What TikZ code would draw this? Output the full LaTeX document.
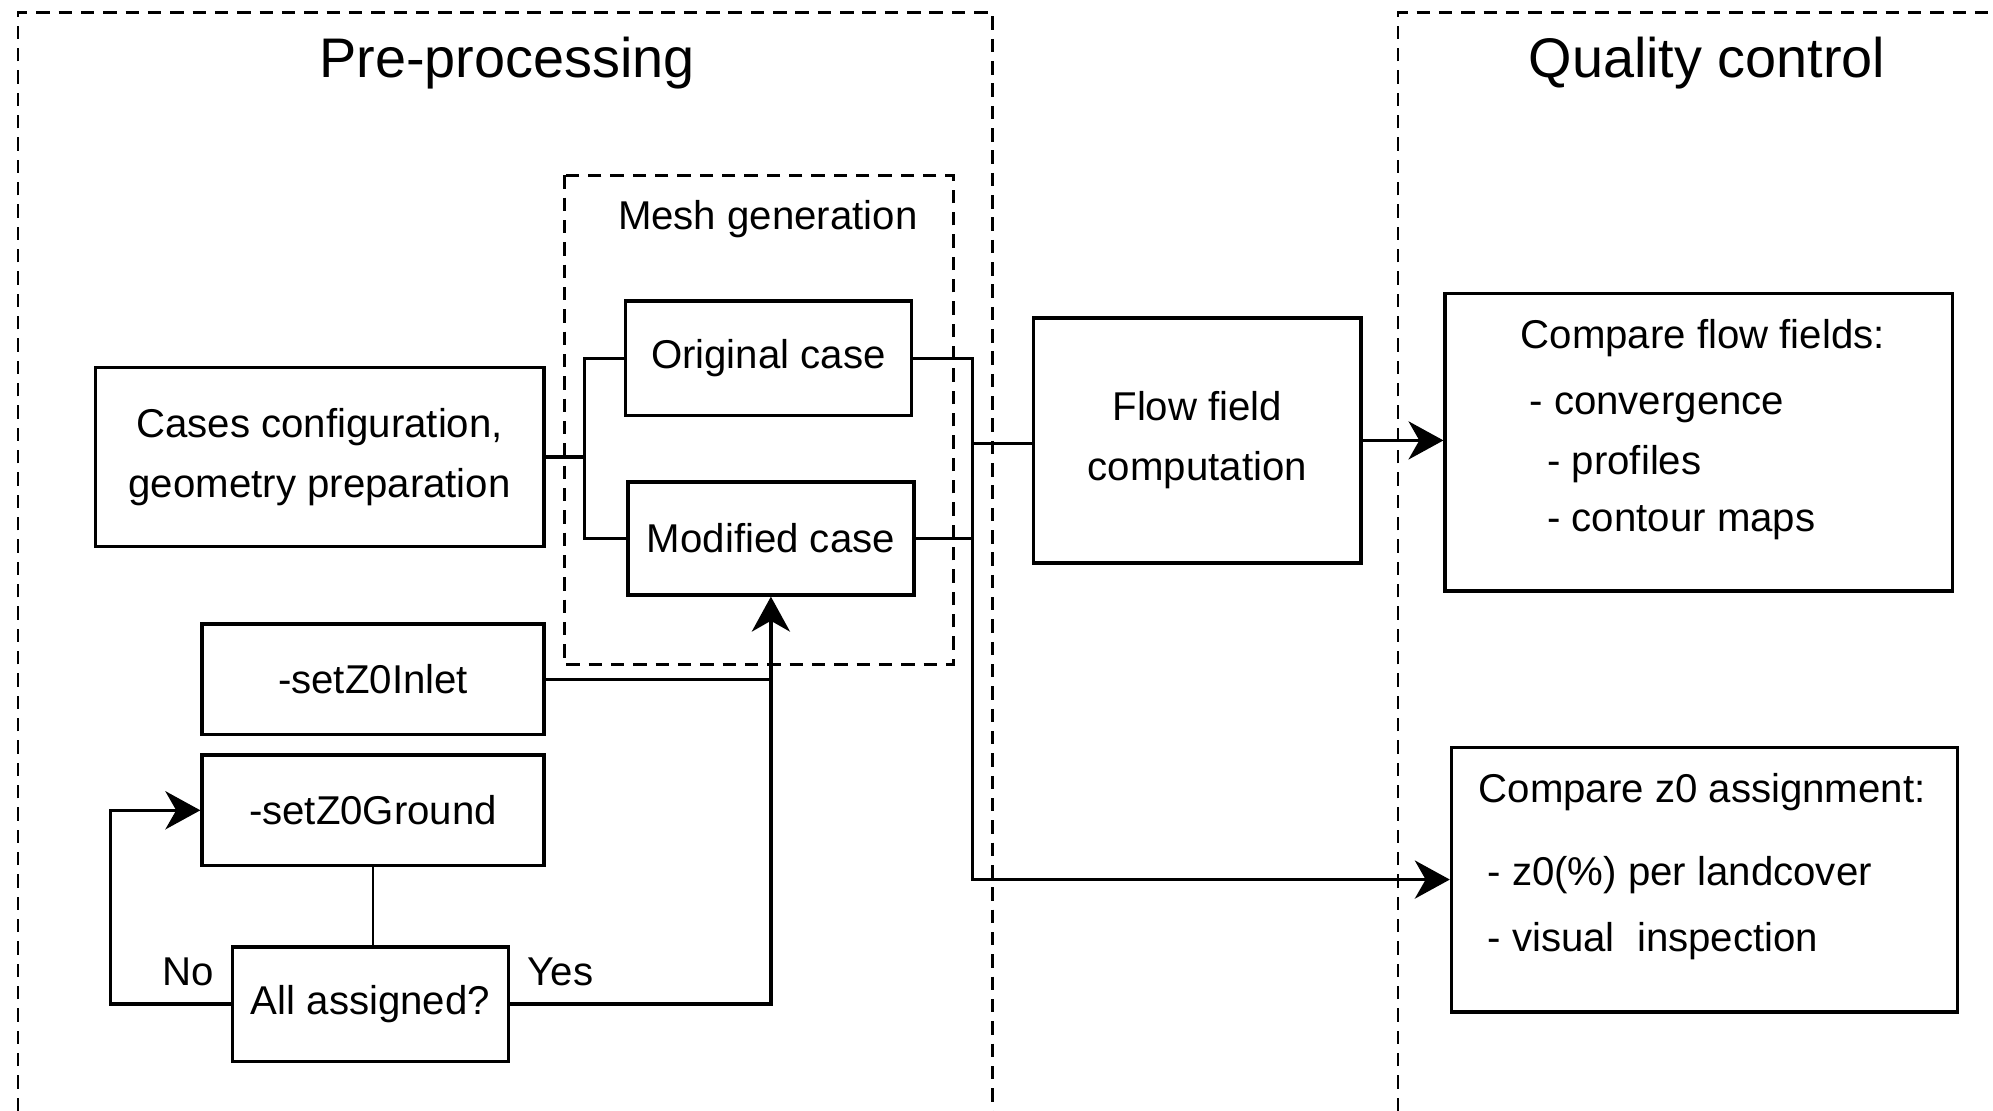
\documentclass[tikz,border=0pt]{standalone}
\usepackage{fontspec}
\setmainfont{Liberation Sans}
\usetikzlibrary{arrows.meta,positioning}
\tikzstyle{box} = [rectangle, draw, line width=1.6pt, align=center, font=\fontsize{18}{27}\selectfont]
\tikzstyle{txt} = [font=\fontsize{18}{27}\selectfont]
\tikzstyle{conn} = [line width=1.5pt]
\tikzstyle{arrow} = [line width=1.5pt, -{Stealth[length=0.55cm, width=0.6cm, inset=0.17cm]}]
\tikzstyle{frame} = [line width=1.1pt, dash pattern=on 6pt off 4pt]

\begin{document}
\begin{tikzpicture}[x=0.02cm, y=-0.02cm]
\useasboundingbox (0,0) rectangle (1568,874);

% Dashed frames
\draw[frame] (14,874) -- (14,10) -- (781,10) -- (781,874);
\draw[frame] (1100,874) -- (1100,10) -- (1568,10);
\draw[frame, line width=1.4pt] (444,138) rectangle (750,523);

% Titles
\node (pretitle) [font=\fontsize{25}{30}\selectfont] at (399,50) {Pre-processing};
\node (qctitle) [font=\fontsize{25}{30}\selectfont] at (1343,50) {Quality control};
\node (meshtitle) [txt] at (604,172) {Mesh generation};

% Pre-processing boxes
\node (cases) [box, minimum width=7.06cm, minimum height=2.82cm] at (251.5,359.5) {Cases configuration,\\ geometry preparation};
\node (orig) [box, minimum width=4.5cm, minimum height=1.8cm] at (604.5,282) {Original case};
\node (mod) [box, minimum width=4.5cm, minimum height=1.78cm] at (606.5,423.5) {Modified case};
\node (inlet) [box, minimum width=5.38cm, minimum height=1.74cm] at (293.5,534.5) {-setZ0Inlet};
\node (ground) [box, minimum width=5.38cm, minimum height=1.74cm] at (293.5,637.5) {-setZ0Ground};
\node (assigned) [box, minimum width=4.34cm, minimum height=1.8cm] at (291.5,790) {All assigned?};
\node (no) [txt] at (148,765) {No};
\node (yes) [txt] at (441,765) {Yes};

% Computation
\node (flow) [box, minimum width=5.16cm, minimum height=3.86cm] at (942,346.5) {Flow field\\ computation};

% Quality control boxes
\node (cmpflow) [box, minimum width=7.98cm, minimum height=4.68cm] at (1336.5,348) {};
\node (cmpflowtxt) [txt, align=left, anchor=north west, inner sep=0pt] at (1196,251) {Compare flow fields:\\[2.5pt]
  \hspace*{0.14cm}- convergence\\
  \hspace*{0.42cm}- profiles\\[-1.5pt]
  \hspace*{0.42cm}- contour maps};
\node (cmpz0) [box, minimum width=7.96cm, minimum height=4.16cm] at (1341,692) {};
\node (cmpz0txt) [txt, align=left, anchor=north west, inner sep=0pt] at (1163,608) {Compare z0 assignment:\\[10pt]
  \hspace*{0.14cm}- z0(\%) per landcover\\[3pt]
  \hspace*{0.14cm}- visual~ inspection};

% Mesh generation in and out
\coordinate (lj) at (460,353);
\coordinate (rj) at (765,349);
\draw[conn] (cases.east) -- (cases.east -| lj);
\draw[conn] (orig.west) -| (lj) |- (mod.west);
\draw[conn] (orig.east) -| (rj);
\draw[conn] (mod.east) -| (rj);
\draw[conn] (rj) -- (rj -| flow.west);
\draw[arrow] (rj) |- (cmpz0.west);
\draw[arrow] (flow.east) -- (flow.east -| cmpflow.west);

% z0 assignment loop
\coordinate (nox) at (87,790);
\draw[conn] (inlet.east) -- (inlet.east -| mod.south);
\draw[arrow] (assigned.east) -| (mod.south);
\draw[conn, line width=1.1pt] (ground.south) -- (ground.south |- assigned.north);
\draw[arrow] (assigned.west) -- (nox) |- (ground.west);
\end{tikzpicture}
\end{document}
